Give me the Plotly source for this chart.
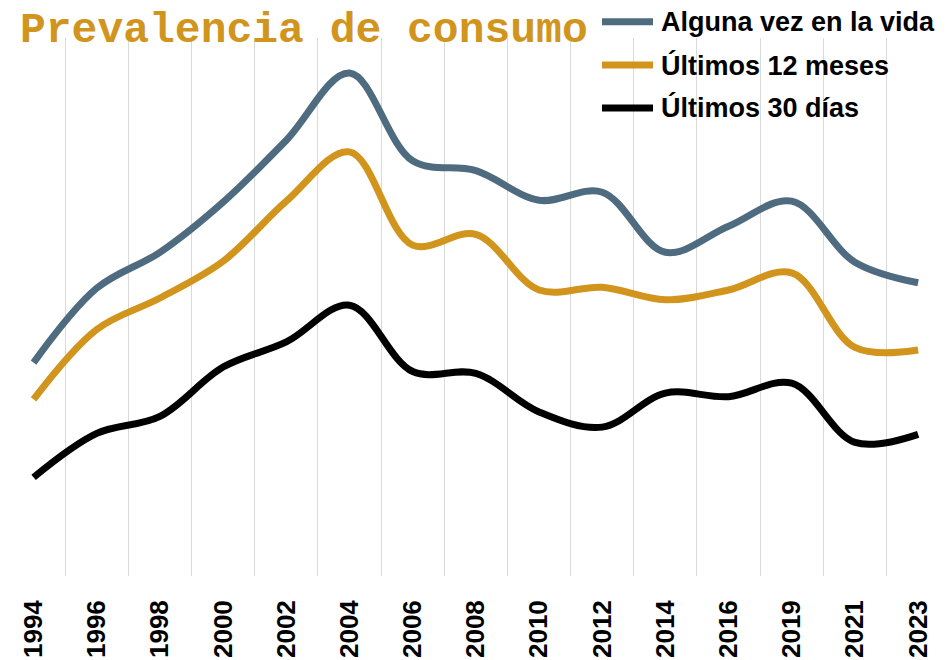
import plotly.graph_objects as go

# Survey years (categorical positions on the x axis)
years = ["1994", "1996", "1998", "2000", "2002", "2004", "2006", "2008",
         "2010", "2012", "2014", "2016", "2019", "2021", "2023"]

# Prevalence (%) by period
alguna_vez = [23.8, 32.1, 36.1, 41.7, 48.6, 56.1, 46.3, 45.2,
              41.9, 42.8, 36.1, 39.0, 41.8, 35.0, 32.7]
ultimos_12 = [19.7, 27.5, 31.0, 35.1, 41.8, 47.3, 36.9, 38.1,
              31.9, 32.2, 30.8, 31.9, 33.8, 25.5, 25.2]
ultimos_30 = [11.0, 15.9, 17.8, 23.3, 26.1, 30.2, 22.8, 22.6,
              18.3, 16.6, 20.4, 20.0, 21.5, 14.9, 15.8]

series_names = ["Alguna vez en la vida", "Últimos 12 meses", "Últimos 30 días"]
series_values = [alguna_vez, ultimos_12, ultimos_30]
series_colors = ["#4E6B7F", "#D1951E", "#000000"]

W, H = 947, 660
M_L, M_R, M_T, M_B = 2, 0, 38, 84
plot_w = W - M_L - M_R
plot_h = H - M_T - M_B

def px_x(p):
    return (p - M_L) / plot_w

def px_y(p):
    return (H - M_B - p) / plot_h

xs = list(range(len(years)))

fig = go.Figure()
for name, vals, col in zip(series_names, series_values, series_colors):
    fig.add_trace(go.Scatter(
        x=xs, y=vals, mode="lines", name=name,
        line=dict(color=col, width=7, shape="spline", smoothing=1.0),
        showlegend=False, hoverinfo="x+y+name",
    ))

# Legend drawn as line samples with labels at the upper right
legend_rows_px = [21.7, 65, 108]
annotations = []
shapes = []
for name, col, ry in zip(series_names, series_colors, legend_rows_px):
    shapes.append(dict(type="line", xref="paper", yref="paper",
                       x0=px_x(602), x1=px_x(653), y0=px_y(ry), y1=px_y(ry),
                       line=dict(color=col, width=7)))
    annotations.append(dict(text=name, xref="paper", yref="paper",
                            x=px_x(659), y=px_y(ry), xanchor="left",
                            yanchor="middle", showarrow=False,
                            font=dict(family="Liberation Sans", size=27,
                                      color="#000000", weight="bold")))

# Chart heading
annotations.append(dict(text="<b>Prevalencia de consumo</b>", xref="paper",
                        yref="paper", x=px_x(18), y=px_y(31),
                        xanchor="left", yanchor="middle", showarrow=False,
                        font=dict(family="Liberation Mono", size=43,
                                  color="#D1951E")))

fig.update_layout(
    width=W, height=H,
    margin=dict(l=M_L, r=M_R, t=M_T, b=M_B, pad=0),
    paper_bgcolor="white", plot_bgcolor="white",
    shapes=shapes, annotations=annotations,
    showlegend=False,
    xaxis=dict(
        range=[-0.5, 14.457],
        tickmode="array", tickvals=xs, ticktext=years,
        tickangle=-90, showgrid=False, zeroline=False, showline=False,
        ticks="", ticklabelstandoff=18,
        tickfont=dict(family="Liberation Sans", size=26, color="#000000",
                      weight="bold"),
        minor=dict(tickmode="array",
                   tickvals=[i - 0.5 for i in range(len(years) + 1)],
                   showgrid=True, gridcolor="#D9D9D9", gridwidth=1.3,
                   ticks=""),
    ),
    yaxis=dict(range=[0, 60], showgrid=False, zeroline=False,
               showline=False, showticklabels=False, ticks=""),
)

fig.write_html("out.html")
